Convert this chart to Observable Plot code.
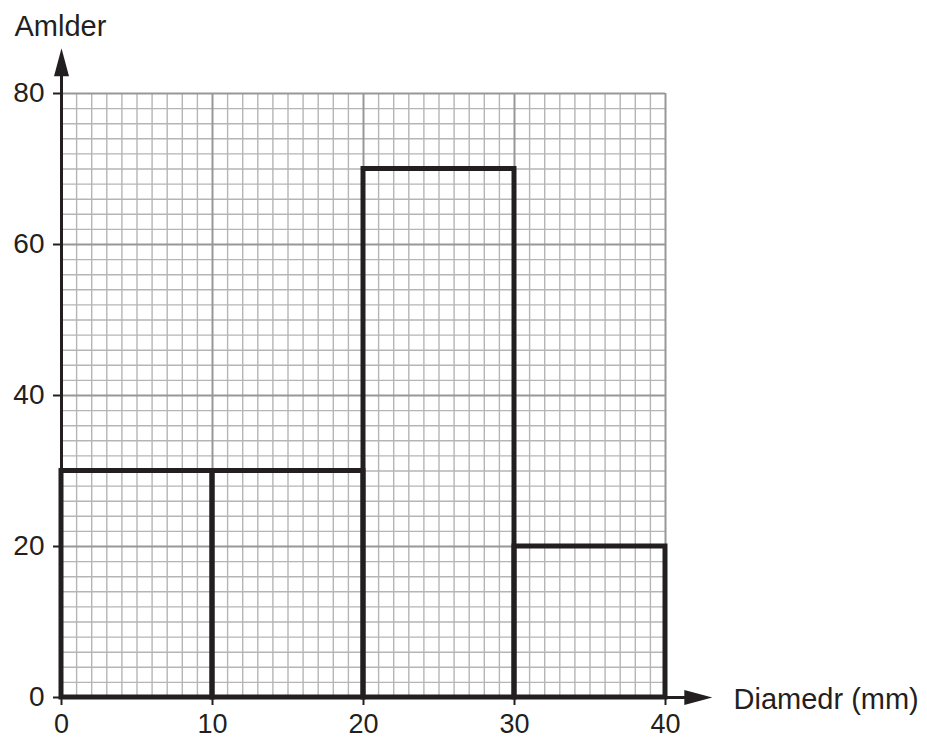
<!DOCTYPE html>
<html>
<head>
<meta charset="utf-8">
<script src="https://cdn.jsdelivr.net/npm/d3@7"></script>
<script src="https://cdn.jsdelivr.net/npm/@observablehq/plot@0.6"></script>
<style>
  html, body { margin: 0; padding: 0; background: #fff; }
  svg { display: block; }
</style>
</head>
<body>
<div id="chart"></div>
<script>
// Histogram data
const binStart = [0, 10, 20, 30];
const binEnd   = [10, 20, 30, 40];
const heights  = [30, 30, 70, 20];
const xTicks = [0, 10, 20, 30, 40];
const yTicks = [0, 20, 40, 60, 80];
const xTitle = "Diamedr (mm)";
const yTitle = "Amlder";
// axis arrow extents (data units)
const xArrowTip = 43.1;
const yArrowTip = 86;

const bars = binStart.map((s, i) => ({x1: s, x2: binEnd[i], y: heights[i]}));

const ink = "#231f20";
const font = "'Liberation Sans', Arial, Helvetica, sans-serif";

const arrowHead = {
  draw(ctx) {
    ctx.moveTo(0, 0);
    ctx.lineTo(7.5, 28);
    ctx.lineTo(-7.5, 28);
    ctx.closePath();
  }
};

const minorX = d3.range(0, 41, 1).filter(d => d % 10 !== 0);
const minorY = d3.range(0, 81, 2).filter(d => d % 20 !== 0);

const chart = Plot.plot({
  width: 927,
  height: 738,
  marginLeft: 61,
  marginRight: 262,
  marginTop: 93,
  marginBottom: 41,
  style: {fontFamily: font, background: "#fff", color: ink},
  x: {domain: [0, 40], axis: null},
  y: {domain: [0, 80], axis: null},
  marks: [
    Plot.ruleX(minorX, {stroke: "#b5b5b5", strokeWidth: 1.4}),
    Plot.ruleY(minorY, {stroke: "#b5b5b5", strokeWidth: 1.4}),
    Plot.ruleX(xTicks, {stroke: "#979797", strokeWidth: 2}),
    Plot.ruleY(yTicks, {stroke: "#979797", strokeWidth: 2}),
    Plot.axisX({ticks: xTicks, tickSize: 8, tickPadding: 8, fontSize: 27, label: null, stroke: ink, strokeWidth: 2, tickFormat: d => d, fill: ink}),
    Plot.axisY({ticks: yTicks, tickSize: 8, tickPadding: 9, fontSize: 28, label: null, stroke: ink, strokeWidth: 2, tickFormat: d => d, fill: ink}),
    Plot.ruleX([0], {y1: 0, y2: yArrowTip - 2, stroke: ink, strokeWidth: 3}),
    Plot.ruleY([0], {x1: 0, x2: xArrowTip - 1, stroke: ink, strokeWidth: 3}),
    Plot.dot([{x: 0, y: yArrowTip}], {x: "x", y: "y", symbol: arrowHead, r: 10, fill: ink, stroke: null}),
    Plot.dot([{x: xArrowTip, y: 0}], {x: "x", y: "y", symbol: arrowHead, r: 10, fill: ink, stroke: null, rotate: 90}),
    Plot.rectY(bars, {x1: "x1", x2: "x2", y: "y", fill: "none", stroke: ink, strokeWidth: 5}),
    Plot.text([yTitle], {frameAnchor: "top-left", text: d => d, textAnchor: "start", lineAnchor: "middle", dx: -47, dy: -67, fontSize: 29, fill: ink}),
    Plot.text([xTitle], {frameAnchor: "bottom-right", text: d => d, textAnchor: "start", lineAnchor: "middle", dx: 68, dy: 2, fontSize: 29, fill: ink})
  ]
});
document.getElementById("chart").appendChild(chart);
</script>
</body>
</html>
